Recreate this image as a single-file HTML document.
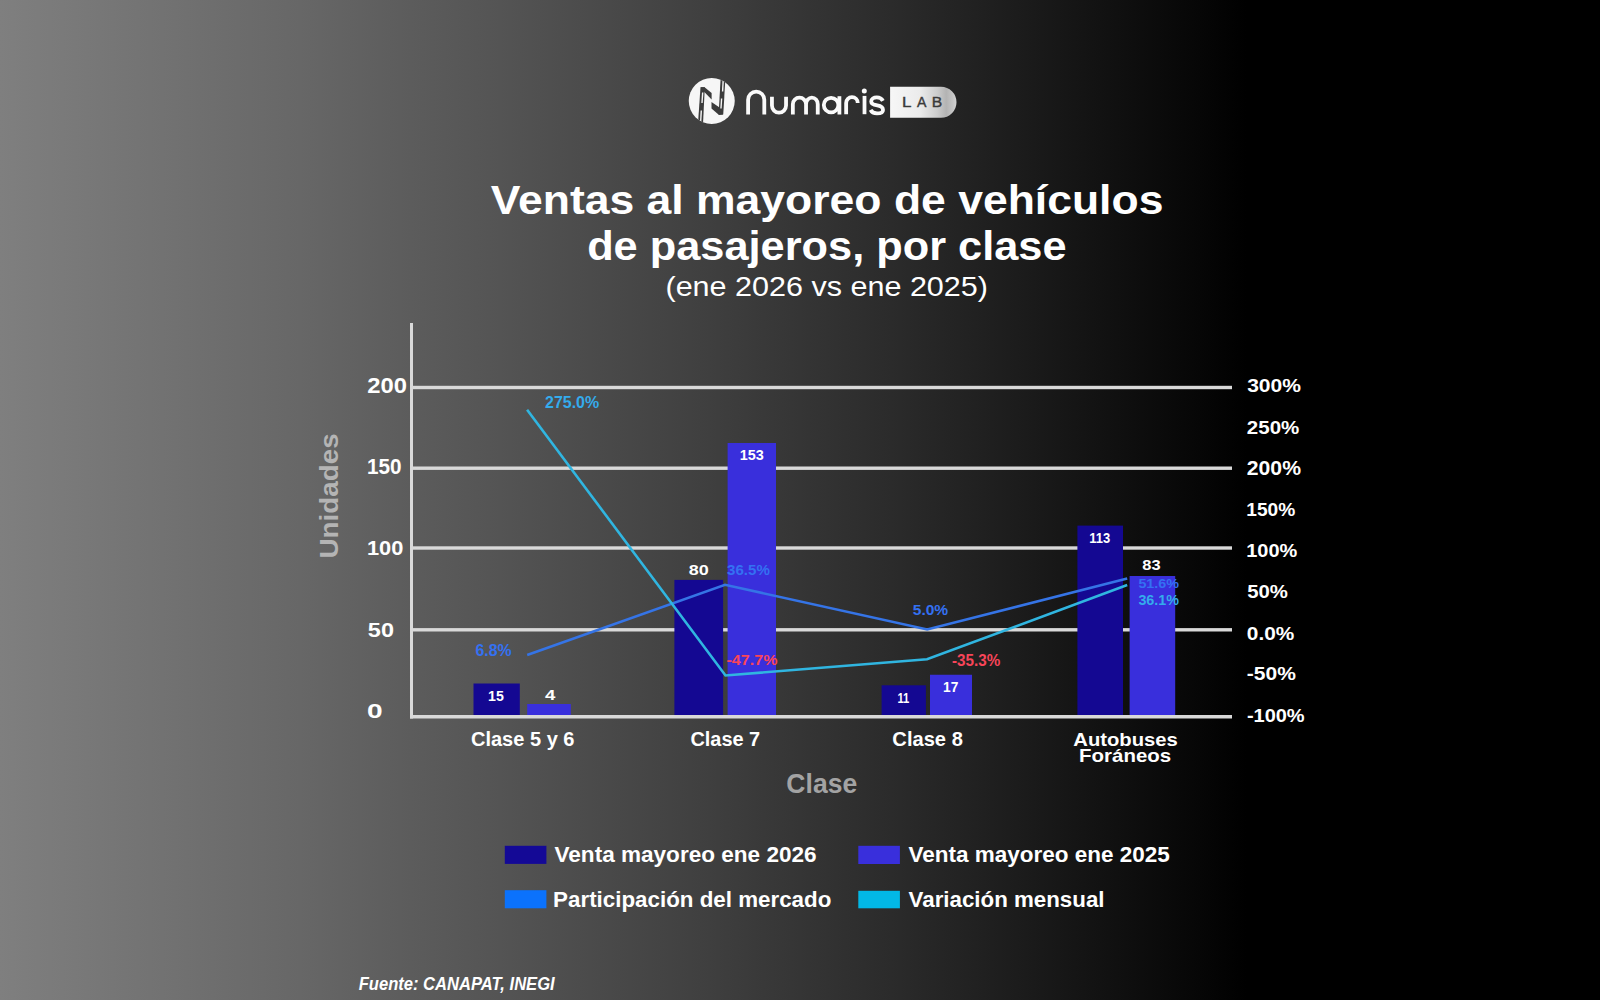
<!DOCTYPE html>
<html><head><meta charset="utf-8"><style>
html,body{margin:0;padding:0;background:#000;}
svg{display:block;font-family:"Liberation Sans",sans-serif;}
</style></head><body>
<svg width="1600" height="1000" viewBox="0 0 1600 1000">
<defs><linearGradient id="bg" x1="0" x2="1300" y1="0" y2="0" gradientUnits="userSpaceOnUse">
<stop offset="0.0000" stop-color="rgb(127,127,127)"/><stop offset="0.0769" stop-color="rgb(119,119,119)"/><stop offset="0.1538" stop-color="rgb(111,111,111)"/><stop offset="0.2308" stop-color="rgb(103,103,103)"/><stop offset="0.3077" stop-color="rgb(93,93,93)"/><stop offset="0.3846" stop-color="rgb(84,84,84)"/><stop offset="0.4615" stop-color="rgb(74,74,74)"/><stop offset="0.5385" stop-color="rgb(64,64,64)"/><stop offset="0.6154" stop-color="rgb(53,53,53)"/><stop offset="0.6923" stop-color="rgb(42,42,42)"/><stop offset="0.7692" stop-color="rgb(30,30,30)"/><stop offset="0.8462" stop-color="rgb(18,18,18)"/><stop offset="0.9231" stop-color="rgb(6,6,6)"/><stop offset="0.9592" stop-color="rgb(0,0,0)"/></linearGradient></defs>
<rect x="0" y="0" width="1600" height="1000" fill="url(#bg)"/>

<defs><clipPath id="cc"><circle cx="25.75" cy="25" r="23"/></clipPath>
<linearGradient id="pill" x1="890" x2="957" y1="0" y2="0" gradientUnits="userSpaceOnUse">
<stop offset="0" stop-color="#f7f7f7"/><stop offset="0.45" stop-color="#ebebeb"/><stop offset="0.7" stop-color="#cdcdcd"/><stop offset="0.84" stop-color="#b3b3b3"/><stop offset="0.94" stop-color="#c6c6c6"/><stop offset="1" stop-color="#d6d6d6"/></linearGradient></defs>
<circle cx="711.75" cy="101" r="23" fill="#f6f6f6"/>
<g clip-path="url(#cc)" transform="translate(686,76)">
 <polygon points="12.1,46 14.5,11.3 18.8,11.3 17.1,46" fill="#3b3b3b"/>
 <polygon points="14.6,11.3 18.6,11.3 25.6,17 25.6,23.6 18.8,16.6" fill="#3b3b3b"/>
 <polygon points="25.5,26 35,32.5 37,38.6 33,39 25.5,32.5" fill="#3b3b3b"/>
 <polygon points="34.6,3 39.4,3 37.2,38.6 32.6,38.6" fill="#3b3b3b"/>
 <line x1="16.7" y1="16.5" x2="16.0" y2="27" stroke="#f6f6f6" stroke-width="1.4"/>
 <line x1="15.3" y1="34.5" x2="14.7" y2="45" stroke="#f6f6f6" stroke-width="1.4"/>
 <line x1="37.2" y1="4" x2="36.6" y2="15.5" stroke="#f6f6f6" stroke-width="1.4"/>
 <line x1="35.6" y1="22.5" x2="35.0" y2="32.5" stroke="#f6f6f6" stroke-width="1.4"/>
</g>
<g fill="none" stroke="#fafafa" stroke-width="3.8">
 <path d="M748.1,114.4 V99.75 A8.1,8.1 0 0 1 764.3,99.75 V114.4"/>
 <path d="M771.95,96.7 V105.6 A7.05,7.05 0 0 0 786.05,105.6 V96.7"/>
 <path d="M792.85,114.5 V104.2 A6.6,6.5 0 0 1 806.05,104.2 V114.5 M806.05,104.2 A5.85,6.5 0 0 1 817.75,104.2 V114.5"/>
 <circle cx="831.1" cy="105.1" r="7.3"/>
 <path d="M839.4,96.2 V114.5"/>
 <path d="M846.15,114.2 V102.9 A5.8,5.8 0 0 1 857.75,102.9"/>
 <path d="M864.5,95.9 V114.2"/>
 <path d="M882.9,100.9 C881.6,98.3 879.4,97.4 876.8,97.4 C873.6,97.4 871.2,99.1 871.2,101.4 C871.2,104.3 874.2,104.8 877.3,105.3 C880.6,105.8 883,107.1 883,110 C883,112.9 880.3,113.4 877,113.4 C874.2,113.4 871.7,112.3 870.6,109.9"/>
</g>
<circle cx="864.3" cy="90.9" r="2.5" fill="#fafafa"/>
<path d="M890.1,86.7 H941 A15.5,15.5 0 0 1 941,117.7 H890.1 Z" fill="url(#pill)"/>
<text transform="translate(901.97,107.00) scale(1.1274,1)" font-size="15.07" fill="#3a3a3a" stroke="#3a3a3a" stroke-width="0.4" style="font-weight:normal;">L</text>
<text transform="translate(917.00,107.00) scale(0.9381,1)" font-size="15.07" fill="#3a3a3a" stroke="#3a3a3a" stroke-width="0.4" style="font-weight:normal;">A</text>
<text transform="translate(931.77,107.00) scale(1.0433,1)" font-size="15.07" fill="#3a3a3a" stroke="#3a3a3a" stroke-width="0.4" style="font-weight:normal;">B</text>

<rect x="413" y="385.8" width="819.00" height="3.40" fill="#d9d9d9"/>
<rect x="413" y="466.5" width="819.00" height="3.40" fill="#d9d9d9"/>
<rect x="413" y="546.3" width="819.00" height="3.40" fill="#d9d9d9"/>
<rect x="413" y="628.0999999999999" width="819.00" height="3.40" fill="#d9d9d9"/>
<rect x="473.5" y="683.5" width="46.30" height="32.50" fill="rgb(20,8,146)"/>
<rect x="527.2" y="704" width="43.60" height="12.00" fill="rgb(57,47,220)"/>
<rect x="674.4" y="579.9" width="48.70" height="136.10" fill="rgb(20,8,146)"/>
<rect x="727.6" y="443" width="48.40" height="273.00" fill="rgb(57,47,220)"/>
<rect x="881.6" y="685.3" width="44.30" height="30.70" fill="rgb(20,8,146)"/>
<rect x="930" y="674.75" width="42.00" height="41.25" fill="rgb(57,47,220)"/>
<rect x="1077.4" y="525.6" width="45.60" height="190.40" fill="rgb(20,8,146)"/>
<rect x="1129.6" y="576" width="45.60" height="140.00" fill="rgb(57,47,220)"/>
<rect x="410" y="323" width="3.00" height="395.50" fill="#d9d9d9"/><rect x="410" y="715" width="822.00" height="3.50" fill="#d9d9d9"/>
<polyline points="527.2,655 725,584.8 927.2,629.5 1127.2,578.4" fill="none" stroke="#3574e6" stroke-width="2.6" stroke-linejoin="miter"/><polyline points="527.1,409.7 725.5,675.5 927,659.3 1127.2,585" fill="none" stroke="#30b5e0" stroke-width="2.6" stroke-linejoin="miter"/>
<rect x="504.8" y="845.8" width="41.60" height="18.10" fill="rgb(20,9,150)"/><rect x="858.3" y="845.8" width="41.60" height="18.20" fill="rgb(57,47,220)"/><rect x="504.8" y="890.2" width="41.60" height="18.10" fill="#0b72fc"/><rect x="858.3" y="890.8" width="41.60" height="17.50" fill="#02b8e6"/>
<text transform="translate(490.80,214.10) scale(1.0938,1)" font-size="40.69" fill="#fff" style="font-weight:bold;">Ventas al mayoreo de vehículos</text>
<text transform="translate(587.14,260.40) scale(1.0514,1)" font-size="41.24" fill="#fff" style="font-weight:bold;">de pasajeros, por clase</text>
<text transform="translate(665.47,295.90) scale(1.0700,1)" font-size="28.55" fill="#fff" style="font-weight:normal;">(ene 2026 vs ene 2025)</text>
<text transform="translate(367.26,392.80) scale(1.1096,1)" font-size="21.45" fill="#fff" style="font-weight:bold;">200</text>
<text transform="translate(367.01,474.20) scale(0.9649,1)" font-size="21.45" fill="#fff" style="font-weight:bold;">150</text>
<text transform="translate(366.89,555.10) scale(1.0908,1)" font-size="20.00" fill="#fff" style="font-weight:bold;">100</text>
<text transform="translate(367.83,637.00) scale(1.1741,1)" font-size="20.00" fill="#fff" style="font-weight:bold;">50</text>
<text transform="translate(367.12,718.00) scale(1.3838,1)" font-size="20.29" fill="#fff" style="font-weight:bold;">0</text>
<text transform="translate(1247.17,392.40) scale(1.1170,1)" font-size="18.84" fill="#fff" style="font-weight:bold;">300%</text>
<text transform="translate(1246.86,433.80) scale(1.0798,1)" font-size="18.99" fill="#fff" style="font-weight:bold;">250%</text>
<text transform="translate(1246.84,475.40) scale(1.0744,1)" font-size="19.71" fill="#fff" style="font-weight:bold;">200%</text>
<text transform="translate(1246.30,516.30) scale(0.9933,1)" font-size="19.28" fill="#fff" style="font-weight:bold;">150%</text>
<text transform="translate(1246.25,557.00) scale(1.0590,1)" font-size="18.84" fill="#fff" style="font-weight:bold;">100%</text>
<text transform="translate(1247.18,598.40) scale(1.0963,1)" font-size="18.55" fill="#fff" style="font-weight:bold;">50%</text>
<text transform="translate(1246.85,639.60) scale(1.0881,1)" font-size="19.13" fill="#fff" style="font-weight:bold;">0.0%</text>
<text transform="translate(1246.84,680.40) scale(1.1693,1)" font-size="17.97" fill="#fff" style="font-weight:bold;">-50%</text>
<text transform="translate(1246.88,722.00) scale(1.0615,1)" font-size="18.84" fill="#fff" style="font-weight:bold;">-100%</text>
<text transform="translate(545.00,407.50) scale(1.0029,1)" font-size="15.94" fill="#34abec" style="font-weight:bold;">275.0%</text>
<text transform="translate(475.50,656.00) scale(0.9968,1)" font-size="15.94" fill="#3471f2" style="font-weight:bold;">6.8%</text>
<text transform="translate(488.12,700.50) scale(0.9297,1)" font-size="15.22" fill="#fff" style="font-weight:bold;">15</text>
<text transform="translate(545.00,699.50) scale(1.2267,1)" font-size="15.22" fill="#fff" style="font-weight:bold;">4</text>
<text transform="translate(688.84,575.40) scale(1.2278,1)" font-size="14.64" fill="#fff" style="font-weight:bold;">80</text>
<text transform="translate(727.06,574.60) scale(1.0300,1)" font-size="14.64" fill="#3471f2" style="font-weight:bold;">36.5%</text>
<text transform="translate(739.70,460.00) scale(0.9476,1)" font-size="15.22" fill="#fff" style="font-weight:bold;">153</text>
<text transform="translate(726.50,664.80) scale(1.0895,1)" font-size="14.78" fill="#f84559" style="font-weight:bold;">-47.7%</text>
<text transform="translate(897.40,702.50) scale(0.7679,1)" font-size="14.64" fill="#fff" style="font-weight:bold;">11</text>
<text transform="translate(943.04,691.60) scale(0.9050,1)" font-size="15.22" fill="#fff" style="font-weight:bold;">17</text>
<text transform="translate(912.76,614.50) scale(1.0224,1)" font-size="15.22" fill="#3471f2" style="font-weight:bold;">5.0%</text>
<text transform="translate(951.92,665.60) scale(0.9390,1)" font-size="16.23" fill="#f84559" style="font-weight:bold;">-35.3%</text>
<text transform="translate(1089.19,542.70) scale(0.8527,1)" font-size="15.22" fill="#fff" style="font-weight:bold;">113</text>
<text transform="translate(1142.29,570.00) scale(1.1841,1)" font-size="13.91" fill="#fff" style="font-weight:bold;">83</text>
<text transform="translate(1138.38,587.60) scale(1.0746,1)" font-size="13.33" fill="#3471f2" style="font-weight:bold;">51.6%</text>
<text transform="translate(1138.38,605.40) scale(0.9693,1)" font-size="14.78" fill="#34abec" style="font-weight:bold;">36.1%</text>
<text transform="translate(470.97,746.00) scale(1.0158,1)" font-size="19.71" fill="#fff" style="font-weight:bold;">Clase 5 y 6</text>
<text transform="translate(690.38,746.00) scale(1.0116,1)" font-size="19.71" fill="#fff" style="font-weight:bold;">Clase 7</text>
<text transform="translate(892.37,746.00) scale(1.0369,1)" font-size="19.42" fill="#fff" style="font-weight:bold;">Clase 8</text>
<text transform="translate(1073.28,746.00) scale(1.0738,1)" font-size="18.84" fill="#fff" style="font-weight:bold;">Autobuses</text>
<text transform="translate(1079.12,762.40) scale(1.0697,1)" font-size="19.13" fill="#fff" style="font-weight:bold;">Foráneos</text>
<text transform="translate(786.37,793.30) scale(0.9909,1)" font-size="26.81" fill="#a3a3a3" style="font-weight:bold;">Clase</text>
<text transform="translate(337.70,558.51) rotate(-90) scale(1.0864,1)" font-size="25.65" fill="#b4b4b4" style="font-weight:bold;">Unidades</text>
<text transform="translate(554.50,861.70) scale(1.0596,1)" font-size="21.30" fill="#fff" style="font-weight:bold;">Venta mayoreo ene 2026</text>
<text transform="translate(908.60,861.70) scale(1.0560,1)" font-size="21.30" fill="#fff" style="font-weight:bold;">Venta mayoreo ene 2025</text>
<text transform="translate(553.10,906.60) scale(1.0087,1)" font-size="22.17" fill="#fff" style="font-weight:bold;">Participación del mercado</text>
<text transform="translate(908.60,906.60) scale(1.0066,1)" font-size="22.17" fill="#fff" style="font-weight:bold;">Variación mensual</text>
<text transform="translate(358.74,990.40) scale(0.8997,1)" font-size="18.41" fill="#fff" style="font-weight:bold;font-style:italic;">Fuente: CANAPAT, INEGI</text>
</svg>
</body></html>
